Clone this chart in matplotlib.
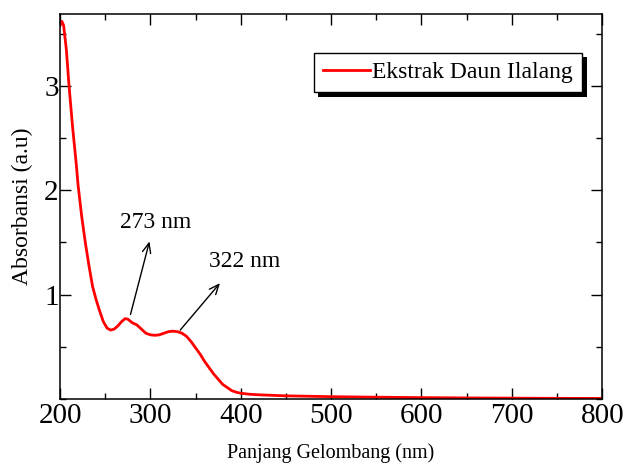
import matplotlib.pyplot as plt
import matplotlib.patheffects as pe
from matplotlib.ticker import MultipleLocator

# data
wavelength = [200, 202, 204, 207, 210, 214, 218, 220, 224, 228, 232, 236, 240,
              244, 248, 252, 256, 260, 264, 268, 272, 275, 280, 285, 290, 295,
              300, 305, 310, 315, 320, 325, 330, 335, 340, 345, 350, 355, 360,
              365, 370, 375, 380, 385, 390, 395, 400, 410, 420, 450, 500, 550,
              600, 650, 700, 750, 800]
absorbance = [3.58, 3.62, 3.58, 3.35, 3.0, 2.6, 2.25, 2.05, 1.75, 1.5, 1.28, 1.08, 0.95,
              0.84, 0.74, 0.68, 0.66, 0.67, 0.70, 0.74, 0.77, 0.765, 0.73, 0.71, 0.67, 0.63,
              0.615, 0.61, 0.615, 0.63, 0.645, 0.65, 0.645, 0.63, 0.60, 0.55, 0.49, 0.43, 0.36,
              0.30, 0.24, 0.19, 0.14, 0.11, 0.08, 0.065, 0.055, 0.045, 0.04, 0.03, 0.022, 0.017,
              0.013, 0.01, 0.008, 0.006, 0.005]

peak_labels = ['273 nm', '322 nm']
peak_text_pos = [(306, 1.69), (404, 1.32)]
peak_arrow_tail = [(278, 0.81), (333, 0.66)]
peak_arrow_head = [(299, 1.51), (377, 1.11)]

plt.rcParams['font.family'] = ['Liberation Serif', 'DejaVu Serif']

fig = plt.figure(figsize=(6.29, 4.65), dpi=100)
ax = fig.add_axes([0.0954, 0.142, 0.862, 0.828])

ax.plot(wavelength, absorbance, color='#ff0000', lw=2.0, label='Ekstrak Daun Ilalang')

for lbl, tpos, tail, head in zip(peak_labels, peak_text_pos, peak_arrow_tail, peak_arrow_head):
    ax.annotate('', xy=head, xytext=tail,
                arrowprops=dict(arrowstyle='->,head_length=0.7,head_width=0.3',
                                color='black', lw=1.0, shrinkA=0, shrinkB=0))
    ax.text(tpos[0], tpos[1], lbl, fontsize=17, ha='center', va='center')

ax.set_xlim(200, 800)
ax.set_ylim(0, 3.69)
ax.xaxis.set_major_locator(MultipleLocator(100))
ax.xaxis.set_minor_locator(MultipleLocator(50))
ax.set_yticks([1, 2, 3])
ax.yaxis.set_minor_locator(MultipleLocator(0.5))

ax.tick_params(which='both', direction='in', top=True, right=True, width=1.0)
ax.tick_params(which='major', length=8)
ax.tick_params(which='minor', length=4)
ax.tick_params(axis='x', labelsize=21, pad=3)
ax.tick_params(axis='y', labelsize=21, pad=1)
for s in ax.spines.values():
    s.set_linewidth(1.1)

ax.set_xlabel('Panjang Gelombang (nm)', fontsize=14.5)
ax.set_ylabel('Absorbansi (a.u)', fontsize=17)
ax.xaxis.set_label_coords(0.5, -0.115)
ax.yaxis.set_label_coords(-0.05, 0.5)

leg = ax.legend(loc='upper right', bbox_to_anchor=(0.963, 0.899), borderaxespad=0,
                fontsize=17, fancybox=False, edgecolor='black', framealpha=1,
                handlelength=2.0, handletextpad=0.1, borderpad=0.38)
leg.get_frame().set_linewidth(1.0)
leg.get_frame().set_path_effects([
    pe.SimplePatchShadow(offset=(3.2, -3.2), shadow_rgbFace='black', alpha=1.0),
    pe.Normal()])

fig.savefig('out.png', dpi=100)
